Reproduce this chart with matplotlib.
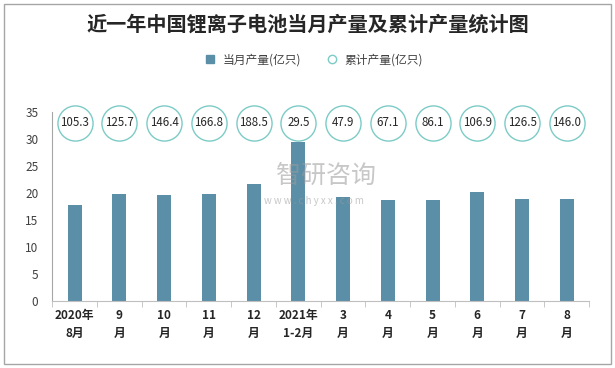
import matplotlib.pyplot as plt
from matplotlib.patches import Rectangle
from matplotlib.lines import Line2D

plt.rcParams['font.family'] = ['Noto Sans CJK SC', 'DejaVu Sans']

months = ['2020年\n8月', '9\n月', '10\n月', '11\n月', '12\n月', '2021年\n1-2月',
          '3\n月', '4\n月', '5\n月', '6\n月', '7\n月', '8\n月']
monthly = [17.8, 19.8, 19.6, 19.8, 21.7, 29.5, 19.3, 18.7, 18.7, 20.2, 18.9, 18.9]
cumulative = [105.3, 125.7, 146.4, 166.8, 188.5, 29.5, 47.9, 67.1, 86.1, 106.9, 126.5, 146.0]

bar_color = '#5B8FA8'
ring_color = '#7CCBC6'

fig = plt.figure(figsize=(6.15, 3.68), dpi=100)
fig.patches.append(Rectangle((0.007, 0.012), 0.986, 0.978, transform=fig.transFigure,
                             fill=False, edgecolor='#A6A6A6', linewidth=1.0))

ax = fig.add_axes([0.085, 0.183, 0.873, 0.513])
x = list(range(len(months)))
ax.bar(x, monthly, width=0.31, color=bar_color, zorder=2)

# cumulative values shown as rings near the top
ring_y = [33] * len(x)
ax.scatter(x, ring_y, s=640, facecolor='white', edgecolor=ring_color,
           linewidth=1.0, zorder=3, clip_on=False)
for xi, v in zip(x, cumulative):
    ax.text(xi, 33, f'{v:.1f}', ha='center', va='center', fontsize=8.3,
            color='#262626', zorder=4)

ax.set_xlim(-0.5, len(x) - 0.5)
ax.set_ylim(0, 35)
ax.set_yticks(range(0, 36, 5))
ax.tick_params(axis='y', length=0, labelsize=8.5, labelcolor='#404040', pad=10)

ax.set_xticks(x)
ax.set_xticklabels(months, fontsize=8.5, fontweight='bold', color='#262626', linespacing=1.5)
ax.tick_params(axis='x', length=0, pad=6)
ax.set_xticks([i - 0.5 for i in range(len(x) + 1)], minor=True)
ax.tick_params(axis='x', which='minor', length=4, color='#BFBFBF')

for s in ['top', 'right']:
    ax.spines[s].set_visible(False)
ax.spines['left'].set_color('#A6A6A6')
ax.spines['bottom'].set_color('#BFBFBF')

fig.text(0.5, 0.935, '近一年中国锂离子电池当月产量及累计产量统计图', ha='center', va='center',
         fontsize=14.5, fontweight='bold', color='#262626')

handles = [Line2D([], [], marker='s', linestyle='none', color=bar_color, markersize=6),
           Line2D([], [], marker='o', linestyle='none', markerfacecolor='white',
                  markeredgecolor=ring_color, markersize=6)]
fig.legend(handles, ['当月产量(亿只)', '累计产量(亿只)'], loc='center', bbox_to_anchor=(0.505, 0.838),
           ncol=2, frameon=False, fontsize=8.5, handletextpad=0.1, columnspacing=1.6,
           labelcolor='#404040')

# watermark
fig.text(0.53, 0.522, '智研咨询', ha='center', va='center', fontsize=18, color='#9A9A9A', alpha=0.55)
fig.text(0.51, 0.455, 'w w w . c h y x x . c o m', ha='center', va='center', fontsize=7,
         color='#9A9A9A', alpha=0.55)

fig.savefig('out.png', dpi=100)
